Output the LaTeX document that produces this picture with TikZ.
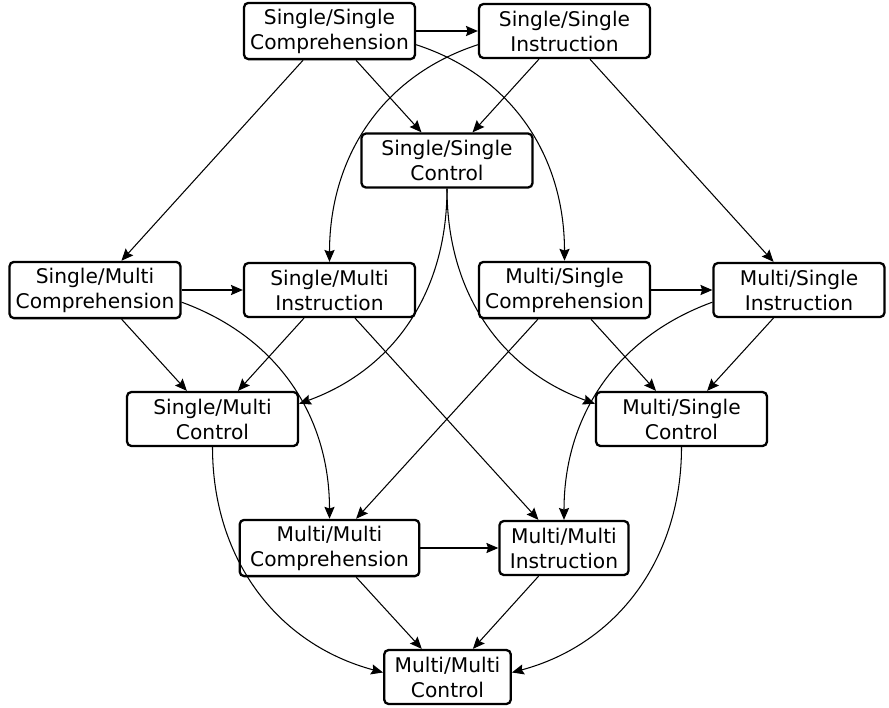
\documentclass[tikz,border=0pt]{standalone}
\usepackage{fontspec}
\setmainfont{DejaVu Sans}
\usetikzlibrary{arrows.meta}

\begin{document}
\begin{tikzpicture}[x=0.02cm, y=0.02cm,
    stage/.style={draw, line width=1.3pt, rounded corners=2.5pt, align=center,
        font=\fontsize{11.5}{14.2}\selectfont, minimum height=1.08cm,
        text width=3.42cm, inner xsep=0pt},
    stagefit/.style={stage, text width=, inner xsep=0.21cm},
    edge/.style={line width=0.6pt, -{Stealth[length=6.8pt,width=5.8pt,inset=1pt]}}]

    \useasboundingbox (0,0) rectangle (889,-707);

    % single/single
    \node[stage] (sscomp) at (329.5,-31) {Single/Single\\Comprehension};
    \node[stage] (ssinst) at (564.5,-31) {Single/Single\\Instruction};
    \node[stage] (ssctrl) at (447,-160.5) {Single/Single\\Control};
    % single/multi and multi/single
    \node[stage] (smcomp) at (95,-290) {Single/Multi\\Comprehension};
    \node[stage] (sminst) at (329.5,-290) {Single/Multi\\Instruction};
    \node[stage] (smctrl) at (212.5,-419) {Single/Multi\\Control};
    \node[stage] (mscomp) at (564.5,-290) {Multi/Single\\Comprehension};
    \node[stage] (msinst) at (799,-290) {Multi/Single\\Instruction};
    \node[stage] (msctrl) at (681.5,-419) {Multi/Single\\Control};
    % multi/multi
    \node[stagefit] (mmcomp) at (329.5,-548) {Multi/Multi\\Comprehension};
    \node[stagefit] (mminst) at (564,-548) {Multi/Multi\\Instruction};
    \node[stagefit] (mmctrl) at (447.5,-677) {Multi/Multi\\Control};

    % straight edges
    \foreach \a/\b in {sscomp/ssinst, sscomp/ssctrl, ssinst/ssctrl, sscomp/smcomp,
        ssinst/msinst, smcomp/sminst, smcomp/smctrl, sminst/smctrl, sminst/mminst,
        mscomp/msinst, mscomp/msctrl, msinst/msctrl, mscomp/mmcomp,
        mmcomp/mminst, mmcomp/mmctrl, mminst/mmctrl}
        \draw[edge] (\a) -- (\b);

    % curved edges
    \draw[edge] (sscomp.-9) to[out=-18, in=90] (mscomp);
    \draw[edge] (ssinst.189) to[out=198, in=90] (sminst);
    \draw[edge] (ssctrl) to[out=-90, in=20] (smctrl.10);
    \draw[edge] (ssctrl) to[out=-90, in=160] (msctrl.170);
    \draw[edge] (smcomp.-8) to[out=-20, in=90] (mmcomp);
    \draw[edge] (msinst.188) to[out=200, in=90] (mminst);
    \draw[edge] (smctrl) to[out=-90, in=165] (mmctrl.176);
    \draw[edge] (msctrl) to[out=-90, in=15] (mmctrl.4);

\end{tikzpicture}
\end{document}
